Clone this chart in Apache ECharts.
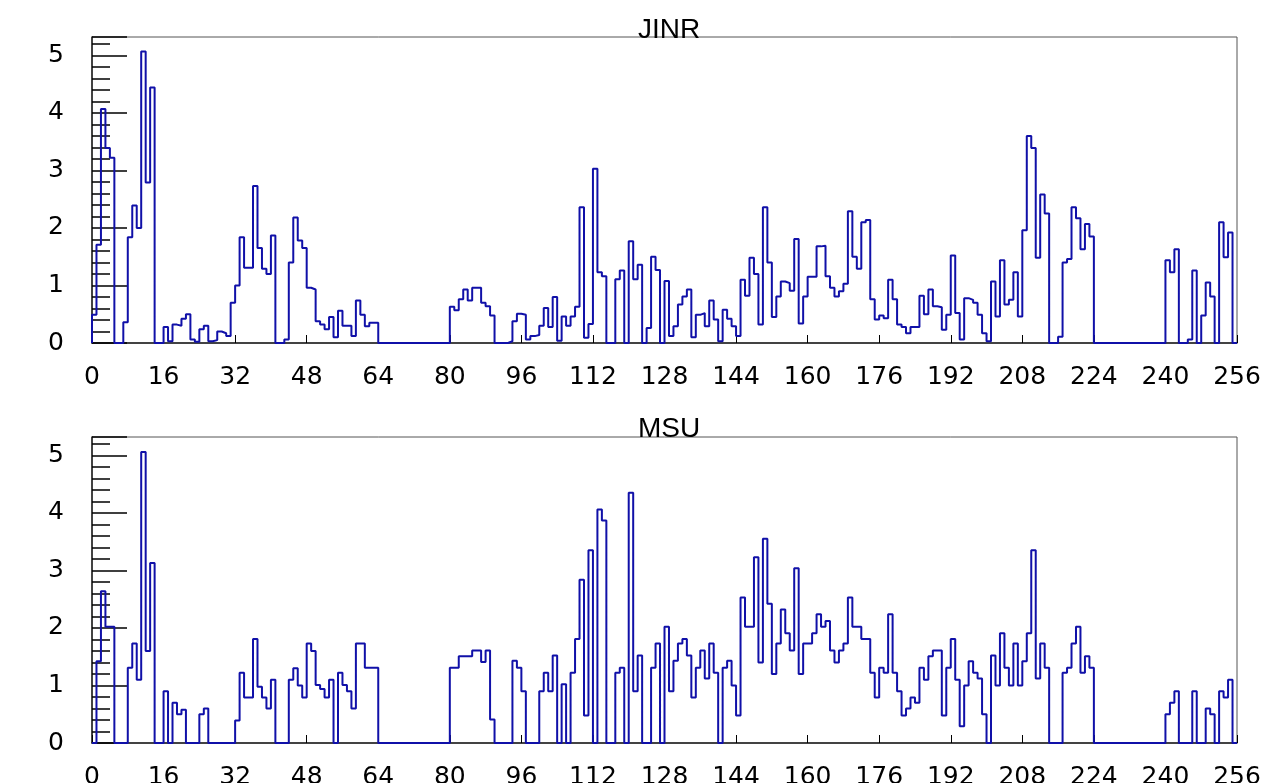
<!DOCTYPE html>
<html>
<head>
<meta charset="utf-8">
<script src="https://cdn.jsdelivr.net/npm/echarts@6/dist/echarts.min.js"></script>
<style>
  html, body { margin: 0; padding: 0; background: #fff; }
  #chart { width: 1276px; height: 783px; }
</style>
</head>
<body>
<div id="chart"></div>
<script>
// 256 channels, one value per bin
const jinr = [
  0.49, 1.71, 4.07, 3.39, 3.22, 0, 0, 0.36, 1.84, 2.39, 2.0, 5.07, 2.79, 4.44, 0, 0,
  0.28, 0.03, 0.32, 0.3, 0.42, 0.5, 0.06, 0.02, 0.24, 0.3, 0.03, 0.05, 0.2, 0.17, 0.12, 0.7,
  1.0, 1.84, 1.31, 1.31, 2.73, 1.65, 1.29, 1.2, 1.87, 0, 0, 0.06, 1.4, 2.18, 1.78, 1.65,
  0.96, 0.93, 0.38, 0.32, 0.24, 0.45, 0.1, 0.56, 0.3, 0.3, 0.12, 0.74, 0.49, 0.29, 0.35, 0.35,
  0, 0, 0, 0, 0, 0, 0, 0, 0, 0, 0, 0, 0, 0, 0, 0,
  0.63, 0.57, 0.76, 0.93, 0.74, 0.96, 0.96, 0.7, 0.64, 0.48, 0, 0, 0, 0.03, 0.38, 0.51,
  0.49, 0.06, 0.12, 0.14, 0.3, 0.61, 0.28, 0.8, 0.04, 0.46, 0.3, 0.46, 0.63, 2.36, 0.09, 0.33,
  3.03, 1.23, 1.16, 0, 0, 1.11, 1.26, 0, 1.77, 1.11, 1.36, 0, 0.26, 1.5, 1.27, 0,
  1.08, 0.12, 0.29, 0.67, 0.81, 0.93, 0.1, 0.49, 0.52, 0.29, 0.74, 0.41, 0.03, 0.58, 0.42, 0.29,
  0.12, 1.1, 0.82, 1.48, 1.2, 0.32, 2.36, 1.4, 0.45, 0.81, 1.07, 1.04, 0.91, 1.81, 0.34, 0.81,
  1.15, 1.15, 1.68, 1.69, 1.16, 0.96, 0.81, 0.9, 1.03, 2.29, 1.5, 1.29, 2.1, 2.14, 0.76, 0.41,
  0.48, 0.43, 1.1, 0.76, 0.32, 0.28, 0.17, 0.28, 0.28, 0.82, 0.5, 0.93, 0.64, 0.62, 0.23, 0.49,
  1.52, 0.52, 0.06, 0.78, 0.75, 0.7, 0.49, 0.17, 0.03, 1.07, 0.46, 1.44, 0.67, 0.75, 1.23, 0.46,
  1.96, 3.6, 3.39, 1.48, 2.58, 2.25, 0, 0, 0.11, 1.4, 1.46, 2.36, 2.17, 1.63, 2.07, 1.85,
  0, 0, 0, 0, 0, 0, 0, 0, 0, 0, 0, 0, 0, 0, 0, 0,
  1.44, 1.23, 1.63, 0, 0, 0.06, 1.26, 0, 0.48, 1.05, 0.81, 0, 2.1, 1.49, 1.92, 0
]
const msu = [
  0, 1.42, 2.64, 2.02, 2.02, 0, 0, 0, 1.31, 1.73, 1.1, 5.06, 1.6, 3.13, 0, 0,
  0.9, 0, 0.7, 0.5, 0.58, 0, 0, 0, 0.5, 0.6, 0, 0, 0, 0, 0, 0,
  0.39, 1.22, 0.79, 0.79, 1.81, 0.98, 0.79, 0.6, 1.1, 0, 0, 0, 1.1, 1.3, 1.0, 0.79,
  1.73, 1.6, 1.01, 0.94, 0.79, 1.1, 0, 1.22, 1.01, 0.9, 0.6, 1.73, 1.73, 1.31, 1.31, 1.31,
  0, 0, 0, 0, 0, 0, 0, 0, 0, 0, 0, 0, 0, 0, 0, 0,
  1.31, 1.31, 1.51, 1.51, 1.51, 1.61, 1.61, 1.41, 1.61, 0.41, 0, 0, 0, 0, 1.43, 1.31,
  0.9, 0, 0, 0, 0.9, 1.22, 0.9, 1.52, 0, 1.02, 0, 1.22, 1.81, 2.84, 0.48, 3.35,
  0, 4.06, 3.87, 0, 0, 1.22, 1.31, 0, 4.35, 0.9, 1.52, 0, 0, 1.31, 1.73, 0,
  2.02, 0.9, 1.43, 1.73, 1.81, 1.52, 0.79, 1.31, 1.61, 1.12, 1.73, 1.22, 0, 1.31, 1.43, 1.0,
  0.48, 2.53, 2.02, 2.02, 3.23, 1.4, 3.55, 2.42, 1.2, 1.73, 2.32, 1.91, 1.61, 3.04, 1.2, 1.73,
  1.73, 1.91, 2.24, 2.02, 2.12, 1.61, 1.4, 1.61, 1.73, 2.53, 2.02, 2.02, 1.81, 1.81, 1.22, 0.79,
  1.31, 1.22, 2.24, 1.22, 0.9, 0.48, 0.6, 0.79, 0.7, 1.31, 1.1, 1.51, 1.61, 1.61, 0.48, 1.31,
  1.81, 1.1, 0.29, 1.0, 1.42, 1.22, 1.12, 0.5, 0, 1.52, 1.0, 1.91, 1.31, 1.0, 1.73, 1.0,
  1.42, 1.91, 3.35, 1.12, 1.73, 1.31, 0, 0, 0, 1.22, 1.31, 1.73, 2.02, 1.22, 1.51, 1.31,
  0, 0, 0, 0, 0, 0, 0, 0, 0, 0, 0, 0, 0, 0, 0, 0,
  0.5, 0.7, 0.9, 0, 0, 0, 0.9, 0, 0, 0.6, 0.5, 0, 0.9, 0.79, 1.1, 0
]
const titles = ['JINR', 'MSU']
const xTicks = [0, 16, 32, 48, 64, 80, 96, 112, 128, 144, 160, 176, 192, 208, 224, 240, 256]
const yTicks = [0, 1, 2, 3, 4, 5]

const yMax = 5.32
const lineColor = '#1010a8'
const labelFont = 'DejaVu Sans'
const titleFont = 'Liberation Sans'

// histogram outline: up from 0, flat over each bin, back down at the end
function stepData(values) {
  var pts = [[0, 0]]
  for (let i = 0; i < values.length; i++) {
    pts.push([i, values[i]])
    pts.push([i + 1, values[i]])
  }
  pts.push([values.length, 0])
  return pts
}

var chart = echarts.init(document.getElementById('chart'))

var grids = [
  { left: 92, right: 39, top: 37, height: 306 },
  { left: 92, right: 39, top: 437, height: 306 }
]
var xAxes = []
var yAxes = []
var series = []
var titleList = []

grids.forEach(function (g, k) {
  g.show = true
  g.borderColor = '#555'
  g.borderWidth = 1
  g.backgroundColor = 'transparent'
  g.outerBoundsMode = 'none'
  g.containLabel = false
  xAxes.push({
    type: 'value',
    gridIndex: k,
    min: xTicks[0],
    max: xTicks[xTicks.length - 1],
    interval: xTicks[1] - xTicks[0],
    axisLine: { show: true, lineStyle: { color: '#222', width: 1.5 } },
    axisTick: { show: true, inside: true, length: 8, lineStyle: { color: '#000' } },
    axisLabel: { fontSize: 25, margin: 22, color: '#000', fontFamily: labelFont },
    splitLine: { show: false }
  })
  // major ticks + labels
  yAxes.push({
    type: 'value',
    gridIndex: k,
    position: 'left',
    min: 0,
    max: yMax,
    interval: yTicks[1] - yTicks[0],
    axisLine: { show: true, lineStyle: { color: '#222', width: 1.5 } },
    axisTick: { show: true, inside: true, length: 35, lineStyle: { color: '#000', width: 1.5 } },
    axisLabel: {
      fontSize: 25, margin: 28, color: '#000', fontFamily: labelFont,
      formatter: function (v) { return yTicks.indexOf(v) >= 0 ? String(v) : '' }
    },
    splitLine: { show: false }
  })
  // minor ticks every 0.2
  yAxes.push({
    type: 'value',
    gridIndex: k,
    position: 'left',
    offset: 0,
    min: 0,
    max: yMax,
    interval: 0.2,
    axisLine: { show: false },
    axisTick: { show: true, inside: true, length: 18, lineStyle: { color: '#000', width: 1.5 } },
    axisLabel: { show: false },
    splitLine: { show: false }
  })
  series.push({
    type: 'line',
    xAxisIndex: k,
    yAxisIndex: k * 2,
    data: stepData(k === 0 ? jinr : msu),
    showSymbol: false,
    symbol: 'none',
    lineStyle: { color: lineColor, width: 2 },
    animation: false,
    z: 3
  })
  titleList.push({
    text: titles[k],
    left: 665,
    textAlign: 'center',
    top: k === 0 ? 14 : 413,
    padding: [2, 4],
    textStyle: { fontSize: 28, fontWeight: 'normal', color: '#000', fontFamily: titleFont }
  })
})

chart.setOption({
  animation: false,
  backgroundColor: '#fff',
  title: titleList,
  grid: grids,
  xAxis: xAxes,
  yAxis: yAxes,
  series: series
})
</script>
</body>
</html>
